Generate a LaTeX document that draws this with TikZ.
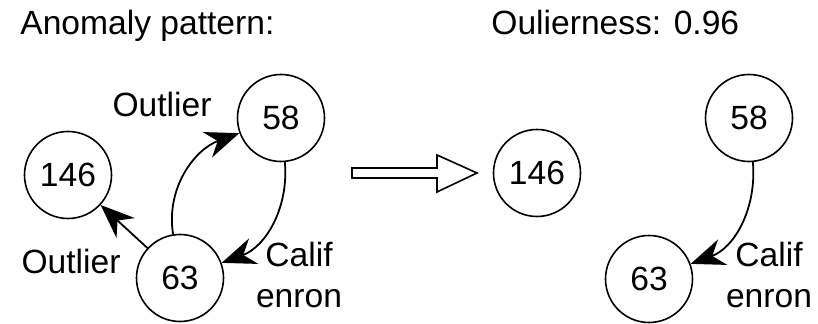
\documentclass[tikz,border=0pt]{standalone}
\usepackage{fontspec}
\setmainfont{Liberation Sans}
\usetikzlibrary{arrows.meta}

\begin{document}
\begin{tikzpicture}[x=0.5pt, y=-0.5pt,
    every node/.style={font=\fontsize{16.8}{20.5}\selectfont, inner sep=0pt},
    vtx/.style={draw, circle, line width=0.8pt, minimum size=43.5pt},
    edge/.style={line width=0.9pt, -{Stealth[length=17pt, width=13.5pt, inset=5.5pt]}}]
    \useasboundingbox (0,0) rectangle (818,324);

    % headings
    \node[anchor=base west] (ttlA) at (20,35) {Anomaly pattern:};
    \node[anchor=base west] (ttlB) at (491,35) {Oulierness: 0.96};

    % anomaly pattern
    \node[vtx] (a146) at (68,175) {146};
    \node[vtx] (a58) at (281,118) {58};
    \node[vtx] (a63) at (180,278) {63};
    \draw[edge] (a63) -- (a146);
    \draw[edge] (a63) to[out=99, in=200] (a58);
    \draw[edge] (a58) to[out=-85, in=20] (a63);
    \node[anchor=base] (lOutA) at (162,117) {Outlier};
    \node[anchor=base] (lOutB) at (71,274) {Outlier};
    \node[anchor=base] (lCalA) at (299,267) {Calif};
    \node[anchor=base] (lEnrA) at (299,308) {enron};

    % hollow arrow
    \draw[line width=0.8pt] (352,168) -- (437,168) -- (437,155) -- (477,173)
        -- (437,192) -- (437,178) -- (352,178) -- cycle;

    % what is left
    \node[vtx] (b146) at (537,173) {146};
    \node[vtx] (b58) at (749,118) {58};
    \node[vtx] (b63) at (649,279) {63};
    \draw[edge] (b58) to[out=-85, in=20] (b63);
    \node[anchor=base] (lCalB) at (769,267) {Calif};
    \node[anchor=base] (lEnrB) at (769,308) {enron};
\end{tikzpicture}
\end{document}
